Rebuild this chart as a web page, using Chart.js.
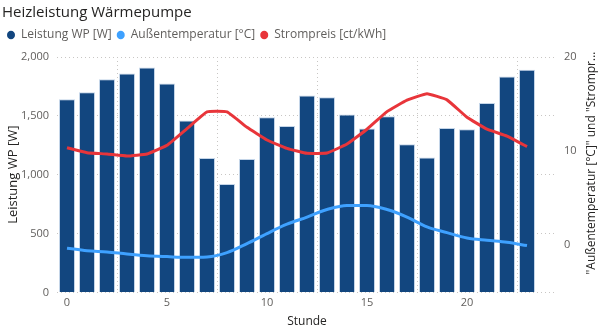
<!DOCTYPE html>
<html>
<head>
<meta charset="utf-8">
<script src="https://cdn.jsdelivr.net/npm/chart.js@4"></script>
<style>
html,body{margin:0;padding:0;background:#fff;}
#wrap{position:relative;width:602px;height:329px;}
</style>
</head>
<body>
<div id="wrap"><canvas id="c" width="602" height="329"></canvas></div>
<script>
const hours = [0,1,2,3,4,5,6,7,8,9,10,11,12,13,14,15,16,17,18,19,20,21,22,23];
const leistungWP = [1640,1700,1810,1860,1910,1775,1460,1142,920,1133,1488,1414,1672,1659,1511,1392,1497,1258,1147,1397,1386,1610,1834,1891];
const aussenTemp = [-0.3,-0.57,-0.71,-0.92,-1.1,-1.2,-1.28,-1.24,-0.78,0.18,1.25,2.24,3.0,3.8,4.23,4.23,3.8,3.0,1.95,1.35,0.78,0.53,0.32,-0.03];
const strompreis = [10.37,9.84,9.7,9.48,9.7,10.62,12.4,14.17,14.17,12.54,11.19,10.3,9.77,9.8,10.76,12.33,14.2,15.42,16.09,15.45,13.6,12.33,11.6,10.48];
const xTicks = [0,5,10,15,20];
const leftTicks = [0,500,1000,1500,2000];
const rightTicks = [0,10,20];
const rightTitle = '"Außentemperatur [°C]" und "Strompr...';

const FONT = "'Segoe UI','Open Sans','Noto Sans',sans-serif";
const cBar = '#12467F', cTemp = '#3EA1FF', cPrice = '#E8353A';
const gridColor = '#C8C6C4';

const layoutFix = {
  id:'layoutFix',
  beforeInit(chart){
    const l = chart.legend;
    if (l) { const f = l.fit; l.fit = function(){ f.call(this); this.height += 6; }; }
  },
  afterDraw(chart){
    const ctx = chart.ctx;
    ctx.save();
    ctx.translate(592, 163);
    ctx.rotate(-Math.PI/2);
    ctx.font = "12px " + FONT;
    ctx.fillStyle = '#252423';
    ctx.textAlign = 'center';
    ctx.textBaseline = 'middle';
    ctx.fillText(rightTitle, 0, 0);
    ctx.restore();
  }
};

new Chart(document.getElementById('c'), {
  data: {
    datasets: [
      {type:'bar', label:'Leistung WP [W]', data: hours.map((h,i)=>({x:h,y:leistungWP[i]})),
        backgroundColor:cBar, borderColor:'rgba(190,208,230,0.9)', borderWidth:1,
        barPercentage:0.8, categoryPercentage:1, yAxisID:'y', order:3},
      {type:'line', label:'Außentemperatur [°C]', data: hours.map((h,i)=>({x:h,y:aussenTemp[i]})),
        borderColor:cTemp, backgroundColor:cTemp, borderWidth:3, pointRadius:0, cubicInterpolationMode:'monotone',
        yAxisID:'y1', order:2},
      {type:'line', label:'Strompreis [ct/kWh]', data: hours.map((h,i)=>({x:h,y:strompreis[i]})),
        borderColor:cPrice, backgroundColor:cPrice, borderWidth:3, pointRadius:0, tension:0.1,
        yAxisID:'y1', order:1}
    ]
  },
  plugins:[layoutFix],
  options: {
    responsive:false, animation:false, devicePixelRatio:1,
    layout:{padding:{left:2,right:0,top:0,bottom:0}},
    plugins:{
      tooltip:{enabled:false},
      title:{display:true, text:'Heizleistung Wärmepumpe', align:'start', color:'#252423',
        font:{family:FONT,size:15,weight:'normal'}, padding:{top:4,bottom:2}},
      legend:{display:true, position:'top', align:'start',
        labels:{usePointStyle:true, boxWidth:8, boxHeight:6, pointStyleWidth:8, padding:5,
          color:'#605E5C', font:{family:FONT,size:12},
          generateLabels:(chart)=>chart.data.datasets.map((d,i)=>({text:d.label, fillStyle:d.backgroundColor,
            strokeStyle:d.backgroundColor, lineWidth:0, pointStyle:'circle', fontColor:'#605E5C', datasetIndex:i, hidden:false}))}}
    },
    scales:{
      x:{type:'linear', min:-0.5, max:24.5, offset:false,
        afterBuildTicks:(s)=>{s.ticks = xTicks.map(v=>({value:v}));},
        ticks:{color:'#605E5C', font:{family:FONT,size:11}, padding:4, autoSkip:false},
        grid:{color:gridColor, drawTicks:false, lineWidth:1},
        border:{display:false, dash:[1,3]},
        title:{display:true, text:'Stunde', color:'#252423', font:{family:FONT,size:12}, padding:{top:1,bottom:0}}},
      y:{type:'linear', position:'left', min:0, max:2000,
        afterBuildTicks:(s)=>{s.ticks = leftTicks.map(v=>({value:v}));},
        afterFit:(s)=>{s.width = 55;},
        ticks:{color:'#605E5C', font:{family:FONT,size:11}, padding:8, callback:(v)=>v.toLocaleString('en-US')},
        grid:{color:gridColor, drawTicks:false, lineWidth:1},
        border:{display:false, dash:[1,3]},
        title:{display:true, text:'Leistung WP [W]', color:'#252423', font:{family:FONT,size:13}, padding:{top:3,bottom:0}}},
      y1:{type:'linear', position:'right', min:-5, max:20,
        afterBuildTicks:(s)=>{s.ticks = rightTicks.map(v=>({value:v}));},
        afterFit:(s)=>{s.width = 45;},
        ticks:{color:'#605E5C', font:{family:FONT,size:11}, padding:7},
        grid:{display:false, drawTicks:false},
        border:{display:false},
        title:{display:false}}
    }
  }
});
</script>
</body>
</html>
